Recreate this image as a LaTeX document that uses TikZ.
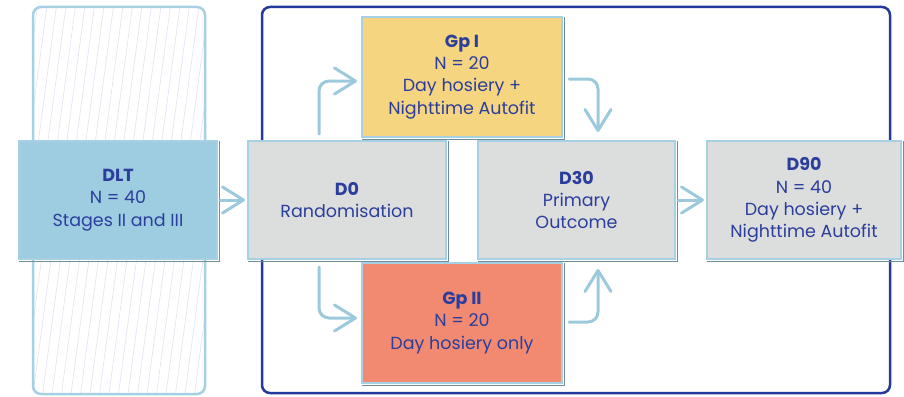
\documentclass[tikz,border=0pt]{standalone}
\usepackage{fontspec}
\setmainfont{Poppins}
\usetikzlibrary{arrows.meta,calc}
\definecolor{txt}{HTML}{2B3E9C}
\definecolor{frame}{HTML}{24399B}
\definecolor{edge}{HTML}{A6D0E3}
\definecolor{arrowc}{HTML}{9DC9DC}
\definecolor{dltfill}{HTML}{9ECDE2}
\definecolor{grayfill}{HTML}{DCDDDD}
\definecolor{gponefill}{HTML}{F6D581}
\definecolor{gptwofill}{HTML}{F28A72}
\definecolor{hatch}{HTML}{E4E4F4}
\definecolor{shade}{HTML}{6F8C9A}
\begin{document}
\begin{tikzpicture}[x=1pt,y=-1pt,
  box/.style={draw=edge, line width=2pt, align=center, inner sep=0pt,
    text=txt, font=\fontsize{17.5}{22.3}\selectfont},
  arr/.style={draw=arrowc, line width=3pt, line cap=round, line join=round,
    rounded corners=10pt,
    -{Straight Barb[length=21pt,width=26pt,line cap=round,line join=round]}},
  shadowline/.style={draw=shade, line width=0.8pt}
]
\useasboundingbox (0,0) rectangle (904,396);
% hatched background panel
\begin{scope}
  \clip[rounded corners=8pt] (33,7) rectangle (205,394);
  \foreach \i in {-7,...,20}
    \draw[hatch, line width=0.7pt] ({33+\i*9.5},394) -- ++(52,-388);
\end{scope}
\draw[edge, line width=2.5pt, rounded corners=8pt] (33,7) rectangle (205,394);
% outer frame
\draw[frame, line width=2.5pt, rounded corners=8pt] (262,7) rectangle (890,393);
% boxes
\node[box, fill=dltfill, minimum width=198pt, minimum height=118pt] (DLT) at (118,200)
  {\textbf{DLT}\\N = 40\\Stages II and III};
\node[box, fill=grayfill, minimum width=198pt, minimum height=118pt] (D0) at (347,200)
  {\textbf{D0}\\Randomisation};
\node[box, fill=grayfill, minimum width=197pt, minimum height=118pt] (D30) at (576.5,200)
  {\textbf{D30}\\Primary\\Outcome};
\node[box, fill=grayfill, minimum width=194pt, minimum height=118pt] (D90) at (804,200)
  {\textbf{D90}\\N = 40\\Day hosiery +\\Nighttime Autofit};
\node[box, fill=gponefill, minimum width=200pt, minimum height=120pt] (G1) at (462,77)
  {\textbf{Gp I}\\N = 20\\Day hosiery +\\Nighttime Autofit};
\node[box, fill=gptwofill, minimum width=200pt, minimum height=120pt] (G2) at (462,323)
  {\textbf{Gp II}\\N = 20\\Day hosiery only};
% subtle shadows on right and bottom edges
\foreach \n in {DLT,D0,D30,D90,G1,G2}
  \draw[shadowline] ($(\n.north east)+(1,1)$) -- ($(\n.south east)+(1,1)$) -- ($(\n.south west)+(1,1)$);
% connectors
\draw[arr] ($(DLT.east)+(2,0)$) -- ($(D0.west)+(-2,0)$);
\draw[arr] ($(D30.east)+(2,0)$) -- ($(D90.west)+(-2,0)$);
\draw[arr] ($(D0.north)+(-28,-6)$) |- ($(G1.west)+(-4,4)$);
\draw[arr] ($(G1.east)+(6,2)$) -| ($(D30.north)+(21.5,-8)$);
\draw[arr] ($(D0.south)+(-28,7)$) |- ($(G2.west)+(-4,-5)$);
\draw[arr] ($(G2.east)+(6,-1)$) -| ($(D30.south)+(21.5,9)$);
\end{tikzpicture}
\end{document}
